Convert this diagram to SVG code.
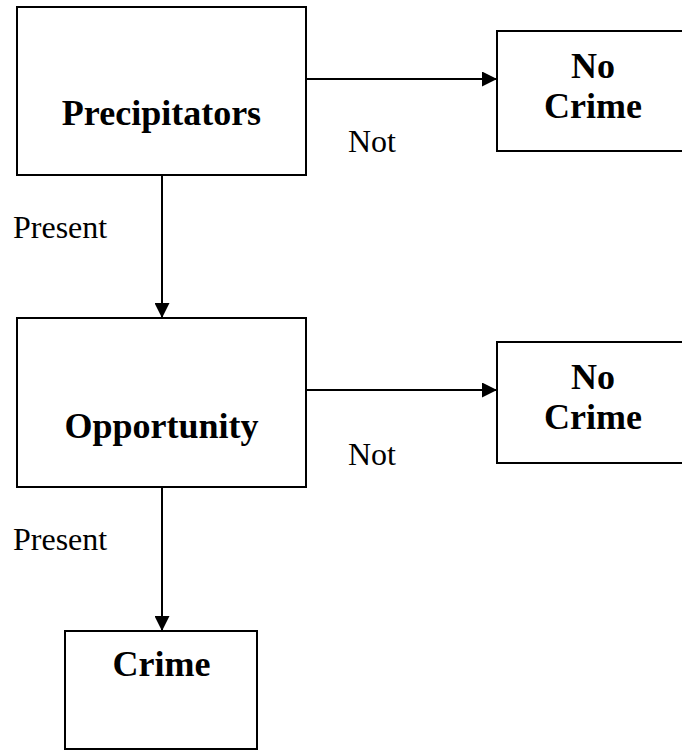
<svg xmlns="http://www.w3.org/2000/svg" width="682" height="751" viewBox="0 0 682 751">
<style>
.box{fill:#fff;stroke:#000;stroke-width:2}
.lbl{font-family:"Liberation Serif","Times New Roman",serif;font-weight:bold;font-size:36px;fill:#000;text-anchor:middle}
.edge{font-family:"Liberation Serif","Times New Roman",serif;font-size:32px;fill:#000}
.conn{stroke:#000;stroke-width:2;fill:none;marker-end:url(#ah)}
</style>
<defs>
<marker id="ah" viewBox="0 0 15 15" refX="15" refY="7.5" markerWidth="15" markerHeight="15" markerUnits="userSpaceOnUse" orient="auto">
<path d="M0,0 L15,7.5 L0,15 Z" fill="#000"/>
</marker>
</defs>
<rect width="682" height="751" fill="#fff"/>
<g id="connectors">
<line class="conn" x1="306" y1="79" x2="497" y2="79"/>
<line class="conn" x1="162" y1="175" x2="162" y2="318"/>
<line class="conn" x1="306" y1="390" x2="497" y2="390"/>
<line class="conn" x1="162" y1="487" x2="162" y2="631"/>
<text class="edge" x="348" y="152">Not</text>
<text class="edge" x="13" y="238">Present</text>
<text class="edge" x="348" y="465">Not</text>
<text class="edge" x="13" y="550">Present</text>
</g>
<g id="precipitators">
<rect class="box" x="17" y="7" width="289" height="168"/>
<text class="lbl" x="161.5" y="125">Precipitators</text>
</g>
<g id="nocrime1">
<rect class="box" x="497" y="31" width="192" height="120"/>
<text class="lbl" x="593" y="78">No</text>
<text class="lbl" x="593" y="118">Crime</text>
</g>
<g id="opportunity">
<rect class="box" x="17" y="318" width="289" height="169"/>
<text class="lbl" x="161.5" y="438">Opportunity</text>
</g>
<g id="nocrime2">
<rect class="box" x="497" y="342" width="192" height="121"/>
<text class="lbl" x="593" y="389">No</text>
<text class="lbl" x="593" y="429">Crime</text>
</g>
<g id="crime">
<rect class="box" x="65" y="631" width="192" height="118"/>
<text class="lbl" x="161.5" y="676">Crime</text>
</g>
</svg>
